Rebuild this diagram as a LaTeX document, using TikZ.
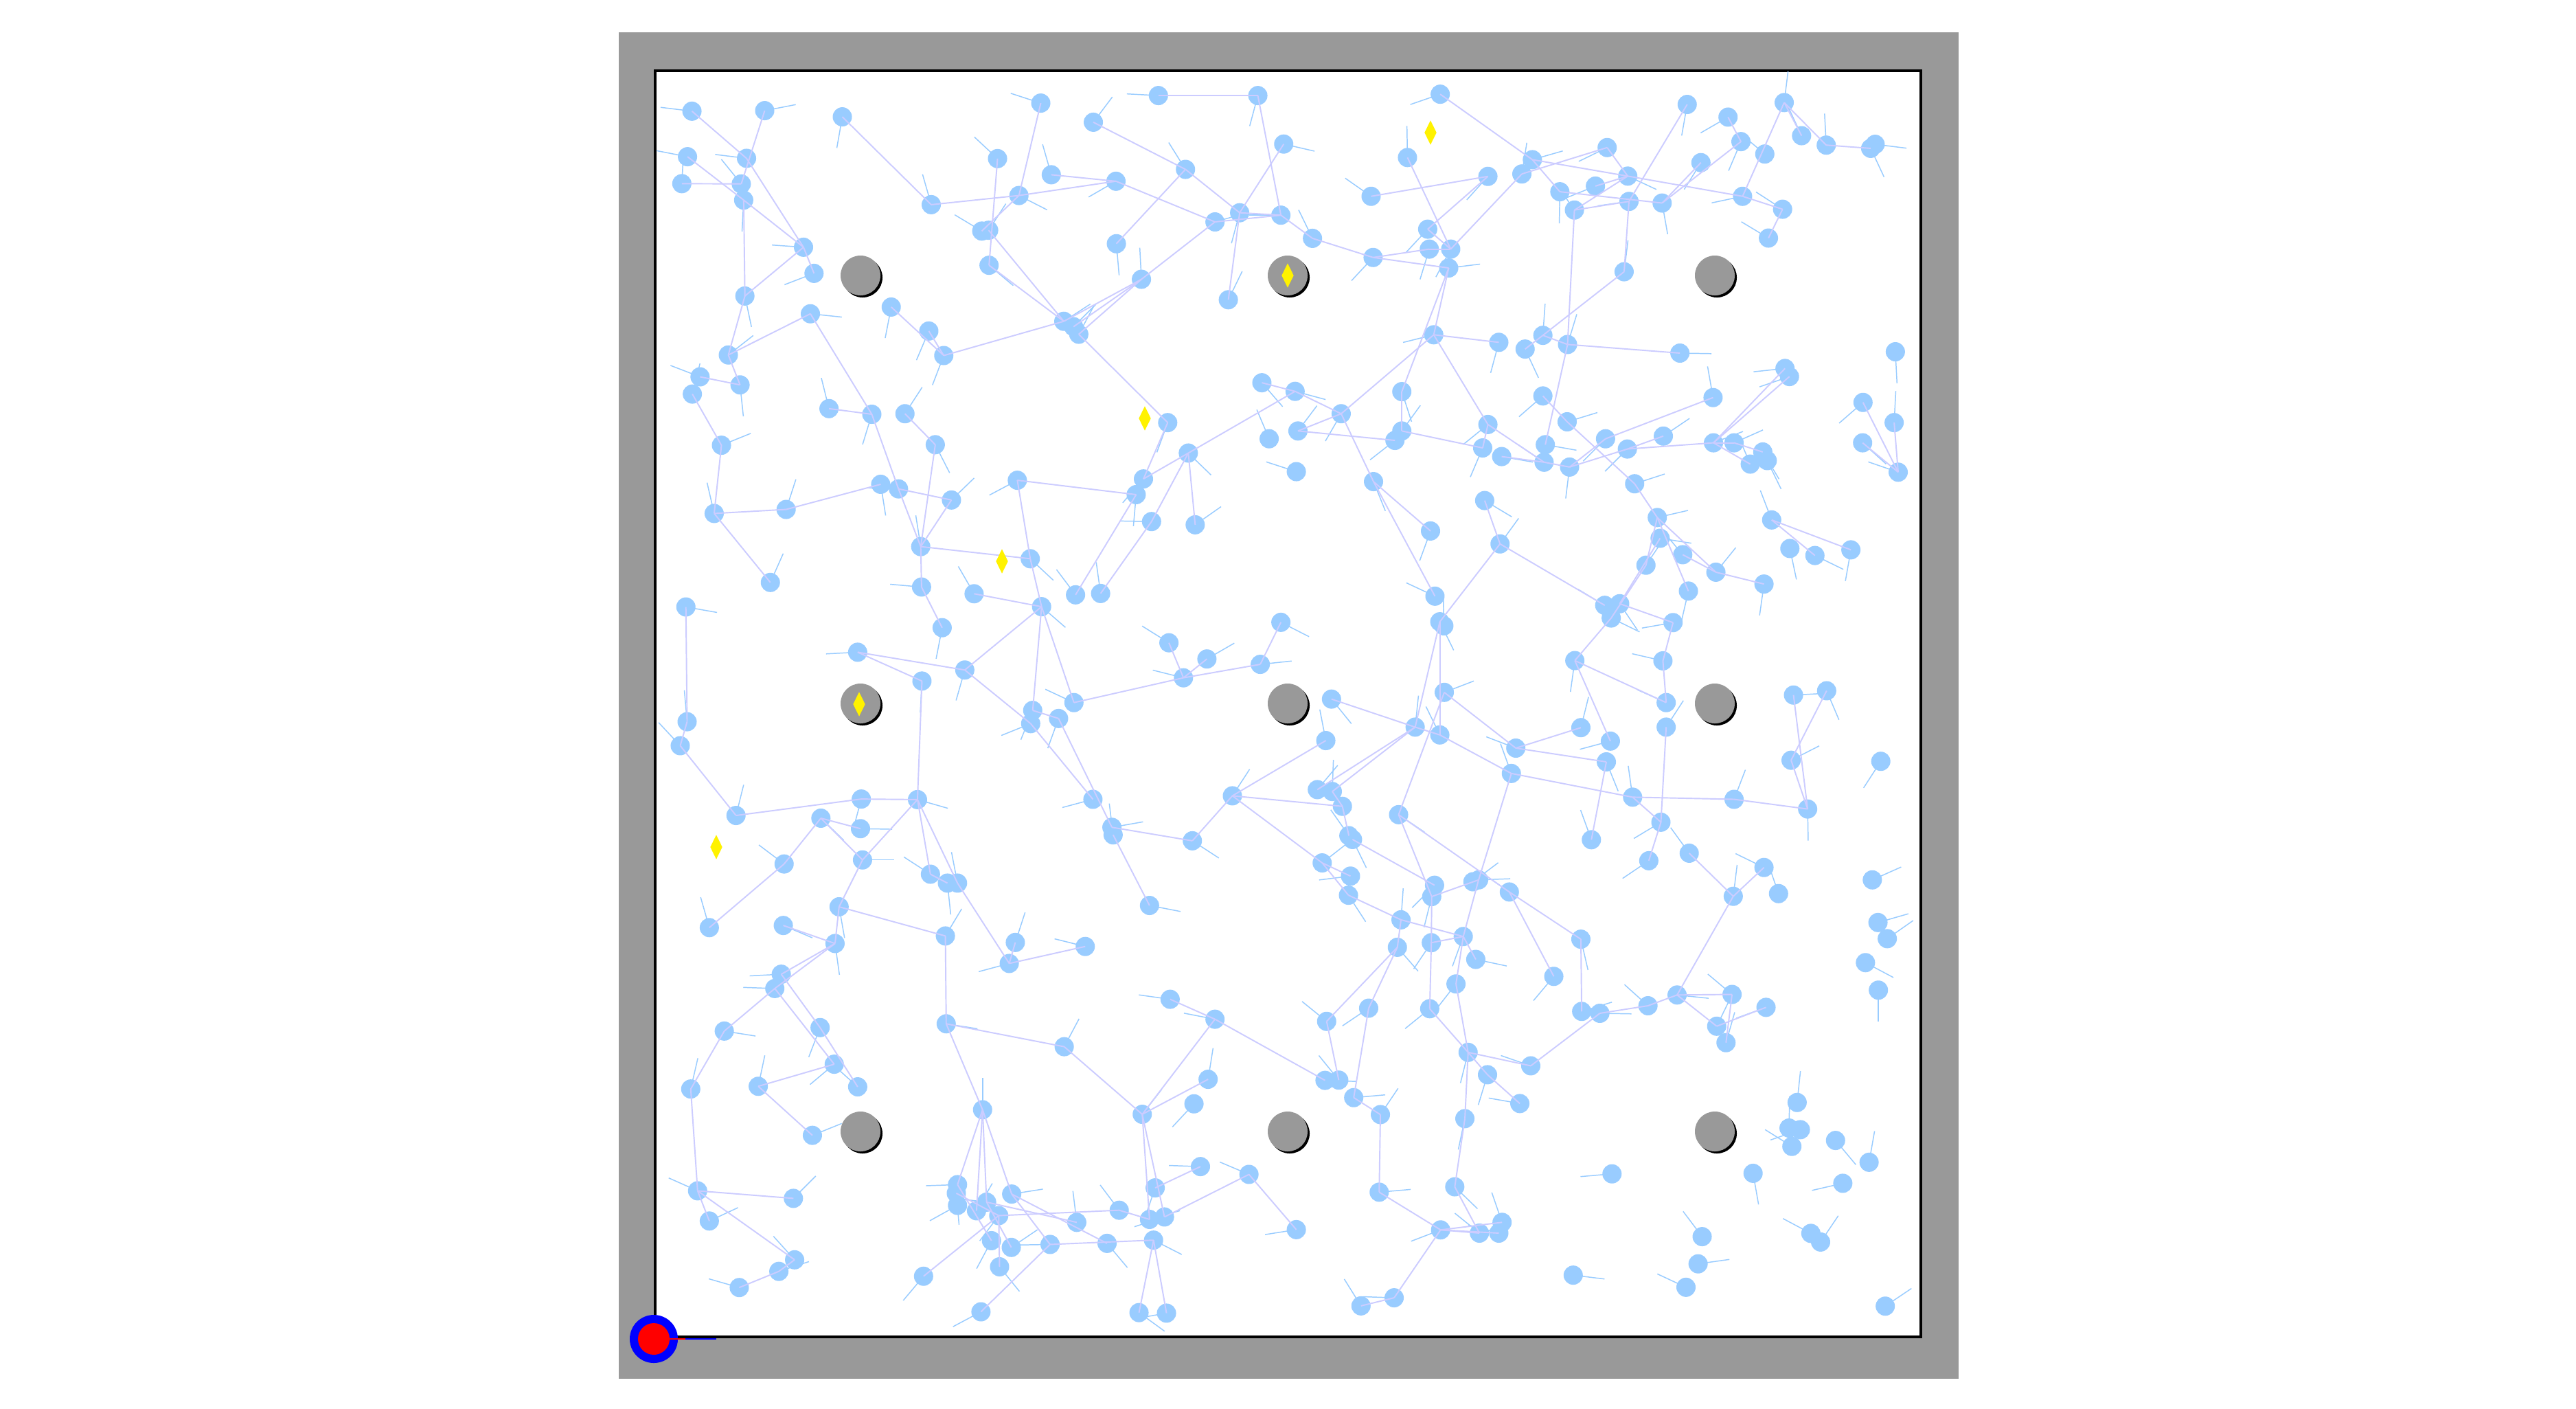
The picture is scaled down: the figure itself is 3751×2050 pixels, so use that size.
\documentclass[tikz,border=0pt]{standalone}
\usetikzlibrary{shapes.geometric}
\definecolor{dotblue}{HTML}{99CCFF}
\definecolor{edgelav}{HTML}{CCCCFF}
\definecolor{obsgray}{HTML}{999999}
\tikzset{
  dotn/.style={circle, fill=dotblue, draw=none, inner sep=0pt, minimum size=0.28cm},
  edgeln/.style={draw=edgelav, line width=0.55pt},
  headln/.style={draw=dotblue, line width=0.42pt},
  obsn/.style={circle, fill=obsgray, draw=none, inner sep=0pt, minimum size=0.58cm},
  obsshadow/.style={circle, fill=black, draw=none, inner sep=0pt, minimum size=0.58cm},
  goaln/.style={diamond, fill=yellow, draw=none, inner sep=0pt, minimum width=0.18cm, minimum height=0.36cm},
}
\def\listA{A1/91/150, A2/271/148, A3/463/171, A4/954/120, A5/1084/191, A6/1245/92, A7/1491/92, A8/1555/272, A9/80/319, A10/226/325, A11/66/419, A12/213/420, A13/219/480, A14/847/326, A15/980/386, A16/1140/410, A17/1312/366, A18/900/463, A19/683/497, A20/808/595, A21/825/592, A22/1385/561, A23/1446/527, A24/1548/536, A25/1141/642, A26/367/655, A27/393/752, A28/826/722, A29/1203/774, A30/1418/850, A31/222/836, A32/384/902, A33/584/877, A34/1011/930, A35/1035/950, A36/1048/978, A37/677/966, A38/714/1057, A39/181/1055, A40/111/1136, A41/210/1166, A42/92/1200, A43/1501/1158, A45/430/1254, A46/536/1275, A47/618/1273, A48/1268/1306, A49/164/1390, A50/693/1388, A51/1319/1419, A52/1519/1366, A53/896/1520, A54/1208/1515, A56/558/1535, A57/602/1552}
\def\listB{B1/374/87, B2/985/125, B3/1086/172, B4/1225/118, B5/1118/263, B6/1268/241, B7/1329/276, B8/1450/273, B9/1439/288, B10/1177/309, B11/293/322, B12/787/285, B13/602/330, B14/576/383, B15/492/392, B16/1019/341, B17/838/391, B18/758/428, B19/670/449, B20/203/466, B21/841/485, B22/923/491, B23/706/517, B24/1122/466, B25/1221/514, B26/58/622, B27/1186/621, B28/343/588, B29/347/662, B30/400/662, B31/208/693, B32/395/732, B33/829/746, B35/358/980, B36/519/1008, B37/628/982, B38/584/1033, B39/689/1016, B40/967/1048, B41/1500/1043, B42/15/1190, B43/279/1191, B44/1227/1105, B45/1238/1135, B46/1049/1213, B47/628/1207, B48/1420/1231, B49/129/1273, B50/22/1337, B51/279/1337, B52/262/1372, B53/492/1313, B54/688/1303, B55/1497/1306, B56/926/1356, B57/783/1366, B58/634/1388, B59/479/1400, B60/1050/1381, B61/1101/1381, B62/1172/1415, B63/1183/1447, B64/1141/1460, B65/1419/1381, B66/837/1404, B67/526/1432, B68/631/1453, B69/694/1471, B70/18/1488, B71/1507/1490, B72/209/1525, B73/855/1533}
\def\listC{C1/146/75, C2/324/60, C5/733/25, C6/1190/5, C7/657/198, C8/1228/105, C9/1336/117, C10/928/243, C11/285/331, C12/659/348, C13/789/373, C14/956/421, C15/1040/377, C16/1102/372, C17/76/422, C18/710/499, C19/1271/555, C20/1365/615, C21/1497/635, C22/1548/479, C23/501/590, C24/766/656, C25/660/697, C26/1307/685, C27/1036/777, C28/934/806, C29/998/836, C30/929/855, C31/79/848, C32/62/937, C33/510/1135, C34/649/1137, C35/1083/1136, C36/1428/1123, C37/200/1196, C38/410/1206, C39/508/1245, C40/1130/1240, C41/1133/1268, C42/1329/1290, C43/319/1376, C44/513/1361, C45/681/1414, C46/723/1447, C47/748/1447, C48/455/1535, C49/1223/1530}
\def\listD{D1/484/27, D2/350/140, D3/522/188, D4/911/90, D5/918/167, D6/974/228, D7/1056/293, D8/883/267, D9/1194/99, D10/1239/205, D11/1301/231, D12/1390/210, D13/1175/337, D14/988/363, D15/361/382, D16/373/477, D17/383/492, D19/781/416, D20/818/410, D21/797/463, D22/950/480, D23/707/621, D24/925/622, D25/384/739, D26/105/764, D27/1248/749, D28/1330/733, D29/933/777, D30/933/868, D31/312/868, D32/373/897, D33/91/918, D34/722/870, D35/795/920, D36/561/946, D37/785/997, D38/1242/991, D39/1464/995, D40/550/1040, D41/70/1100, D42/107/1107, D43/132/1162, D44/850/1128, D45/1101/1136, D46/1283/1172, D47/271/1193, D48/920/1221, D49/148/1271, D50/157/1285, D51/748/1286, D52/990/1336, D53/890/1364, D54/82/1372, D55/1175/1389, D56/152/1421, D57/360/1455, D58/469/1435, D59/455/1442, D60/545/1480, D61/353/1497, D62/147/1492, D63/1099/1496, D64/1211/1486, D65/1443/1435}
\def\listE{E1/134/44, E2/317/36, E4/445/103, E5/718/75, E6/891/99, E7/876/177, E8/1064/114, E9/312/217, E10/296/270, E11/171/428, E12/408/415, E13/720/401, E14/1012/486, E15/1274/310, E16/1385/384, E17/443/551, E18/88/643, E19/255/633, E20/501/635, E21/1368/607, E22/1333/698, E23/810/720, E24/1205/737, E25/389/815, E26/1349/931, E27/1469/960, E28/105/1021, E29/342/1049, E30/134/1133, E31/748/998, E32/745/1030, E33/748/1075, E34/882/1033, E35/820/1063, E36/795/1095, E37/850/1113, E38/1148/1093, E39/1043/1138, E40/1223/1127, E41/1260/1118, E42/1237/1010, E43/832/1206, E44/881/1231, E45/977/1220, E46/1118/1216, E47/1233/1204, E48/345/1277, E49/306/1320, E50/208/1380, E51/664/1338, E52/852/1303, E53/806/1470, E54/1197/1473, E55/1265/1475}
\def\listF{F1/277/15, F2/1457/25, F3/1480/85, F4/431/77, F5/352/100, F6/268/117, F7/722/87, F8/462/162, F9/1426/174, F10/655/225, F11/413/253, F12/1458/276, F13/960/294, F14/1096/292, F15/1180/340, F16/888/334, F17/769/362, F18/724/355, F19/348/345, F20/197/343, F21/93/392, F22/1058/410, F23/1081/471, F24/443/507, F25/598/557, F26/491/590, F27/89/611, F28/123/610, F29/160/675, F30/571/697, F31/1257/693, F32/226/738, F33/435/753, F34/1237/788, F35/1265/794, F36/1244/856, F37/1352/834, F38/1435/915, F39/799/958, F40/1148/956, F41/1370/993, F42/223/1026, F43/410/1006, F44/18/1165, F45/375/1166, F46/471/1178, F47/527/1138, F48/519/1178, F49/1022/1191, F50/1291/1179, F51/1315/1211, F52/1012/1292, F53/703/1334, F54/982/1379, F55/260/1418, F56/178/1448, F57/1475/1449}
\newcommand\tileheads[3]{%
  \foreach \nm/\px/\py in #3 {
    \pgfmathsetmacro\hx{#1+\px/1.699}
    \pgfmathsetmacro\hy{#2+\py/2.55}
    \pgfmathsetmacro\ang{mod(mod(\px*7,360)+mod(\py*9,360),360)}
    \draw[headln] (\hx,\hy) -- ++(\ang:46);
  }}
\newcommand\tiledots[3]{%
  \foreach \nm/\px/\py in #3 {
    \pgfmathsetmacro\hx{#1+\px/1.699}
    \pgfmathsetmacro\hy{#2+\py/2.55}
    \node[dotn] (\nm) at (\hx,\hy) {};
  }}
\begin{document}
\begin{tikzpicture}[x=0.01cm, y=-0.01cm]
\useasboundingbox (0,0) rectangle (3751,2050);
\fill[white] (0,0) rectangle (3751,2050);
% walls
\fill[obsgray] (901,47) rectangle (2852,2007);
\draw[fill=white, line width=0.04cm] (954,103) rectangle (2797,1946);
% obstacles
\foreach \i/\ox/\oy in {1/1253/401, 2/1875/401, 3/2497/401, 4/1253/1024, 5/1875/1024, 6/2497/1024, 7/1253/1647, 8/1875/1647, 9/2497/1647} {
  \node[obsshadow] (obs\i s) at (\ox+3,\oy+3) {};
  \node[obsn] (obs\i) at (\ox,\oy) {};
}
% headings
\tileheads{954}{103}{\listA}
\tileheads{1877}{103}{\listB}
\tileheads{954}{718}{\listC}
\tileheads{1877}{718}{\listD}
\tileheads{954}{1333}{\listE}
\tileheads{1877}{1333}{\listF}
% samples
\tiledots{954}{103}{\listA}
\tiledots{1877}{103}{\listB}
\tiledots{954}{718}{\listC}
\tiledots{1877}{718}{\listD}
\tiledots{954}{1333}{\listE}
\tiledots{1877}{1333}{\listF}
% roadmap edges
\foreach \a/\b in {A1/A10, A2/A12, A9/A13, A13/A26, A10/A26, A11/A12, A13/A31, A26/A31, A26/A27, A31/A39, A39/A32, A39/A41, A40/A41, A42/A49, A49/C1, A32/A46, A45/A46, A46/A57, A47/A50, A50/C7, A3/A19, A19/A18, A18/A16, A15/A16, A4/A18, A18/A20, A14/A28, A21/A34, A28/A34, A34/A29, A35/A29, A36/A29, A29/A22, A16/A22, A22/A24, A23/A24, A17/A23, A5/A17, A17/A25, A23/A8, A7/A24, A6/A7, A23/A30, A33/A38, A37/A38, A38/A34, A36/A48, A48/A54, A51/A54, A51/B42, A51/C9, A53/C6, A43/B42, C2/A56, A57/C7, A57/C5}
  \draw[edgeln] (\a.center) -- (\b.center);
\foreach \a/\b in {B1/B13, B13/B17, B13/B19, B12/B14, B12/B17, B17/B24, B24/B25, B25/B27, B24/B4, B4/B6, B4/B7, B7/B9, B3/B5, B5/B22, B16/B22, B2/B21, B19/B22, B17/B23, B18/B17, B21/B23, B21/B33, B23/B39, B33/B37, B11/B30, B15/B20, B15/B28, B14/B30, B28/B30, B29/B30, B26/B31, B31/B29, B31/B32, B26/A24, B32/B35, B32/B43, B35/B36, B35/B49, B35/B53, B37/B39, B38/B37, B39/B40, B39/B58, B47/B54, B42/B49, B49/B50, B49/B72, B50/B52, B43/B51, B51/B59, B53/B68, B67/B68, B53/B59, B69/B57, B57/B46, B69/B66, B66/B56, B66/B60, B60/B44, B60/B45, B60/B61, B61/B62, B60/B64, B54/B73, B48/B71, B65/B71, B55/B71, B68/B69, B73/D4}
  \draw[edgeln] (\a.center) -- (\b.center);
\foreach \a/\b in {C1/C2, C1/C11, C7/C5, C7/C10, C7/C12, C12/C18, C10/C14, C10/A53, C13/C14, C14/C24, C14/C28, C14/C27, C15/C6, C16/C8, C8/A51, C17/C31, C31/C32, C32/C37, C37/C33, C33/C34, C23/C25, C23/C24, C25/C34, C34/C44, C34/C45, C34/C47, C38/C39, C38/C44, C38/C43, C44/C48, C45/C46, C24/C30, C30/C35, C28/C29, C29/C40, C40/C42, C42/C36, C41/C49, C27/C26, C26/C21, C26/C19, C26/C20, C21/C22, C36/D43, C36/D54, D33/C36, C43/E1, C48/E4, C48/E5, C47/E7}
  \draw[edgeln] (\a.center) -- (\b.center);
\foreach \a/\b in {D1/D3, D3/D16, D3/D19, D20/D22, D2/B72, D15/B72, D16/D31, D16/D32, D25/D36, D25/D47, D26/D31, D31/D32, D32/D40, D31/D41, D31/D42, D36/D34, D36/D37, D37/D51, D40/D44, D40/D58, D44/D45, D45/D46, D27/D46, D38/D28, D38/D46, D44/D48, D48/D53, D48/D30, D24/D29, D24/D22, D23/D29, D23/D35, D23/D21, D8/D21, D4/D8, D5/D20, D4/D14, D4/D7, D6/D7, D9/D12, D9/D11, D7/D13, D42/D43, D43/D49, D50/D57, D47/D60, D47/D61, D58/D61, D54/D56, D54/D62, D52/D63, D55/D63}
  \draw[edgeln] (\a.center) -- (\b.center);
\foreach \a/\b in {E2/E4, E4/E9, E4/E10, E10/E11, E11/E18, E18/E28, E28/E29, E28/E30, E28/E48, E48/E49, E49/E50, E10/E17, E9/E12, E12/E20, E17/E19, E19/E25, E5/E13, E13/E14, E14/E24, E13/E23, E6/E7, E7/E8, E15/E16, E16/F27, E16/E24, E21/E24, E24/E41, E24/E40, E26/E42, E41/E27, E27/F44, E23/E31, E23/E35, E23/E34, E23/E36, E31/E43, E32/E37, E34/E45, E34/E46, E37/E38, E38/E40, E35/E39, E45/E47, E45/E53, E47/E54, E47/E55, E37/E51, E37/E52, E35/E44}
  \draw[edgeln] (\a.center) -- (\b.center);
\foreach \a/\b in {F1/F6, F1/F4, F5/F4, F4/F8, F4/F11, F5/F19, F6/F21, F6/F20, F20/F29, F21/F28, F29/F32, F32/F42, F42/F45, F45/F46, F45/F47, F45/F48, F45/F55, F55/F56, F43/F46, F33/F43, F24/F33, F11/F24, F19/F24, F24/F25, F26/F30, F24/F26, F25/F17, F7/F18, F17/F16, F16/F13, F13/F14, F13/F22, F22/F15, F14/F23, D63/F13, D60/F10, D60/F7, F5/D61, F4/D58, F1/D62}
  \draw[edgeln] (\a.center) -- (\b.center);
% goals
\foreach \i/\gx/\gy in {1/2083/193, 2/1875/401, 3/1667/609, 4/1459/817, 5/1251/1025, 6/1043/1233}
  \node[goaln] (goal\i) at (\gx,\gy) {};
% robot
\node[circle, fill=blue, draw=none, inner sep=0pt, minimum size=0.70cm] (robot) at (952,1949) {};
\node[circle, fill=red, draw=none, inner sep=0pt, minimum size=0.46cm] (robotcore) at (952,1949) {};
\coordinate (rh1) at (998,1949);
\coordinate (rh2) at (1043,1949);
\draw[red, line width=0.55pt] (robotcore.center) -- (rh1);
\draw[blue, line width=0.55pt] (rh1) -- (rh2);
\end{tikzpicture}
\end{document}
